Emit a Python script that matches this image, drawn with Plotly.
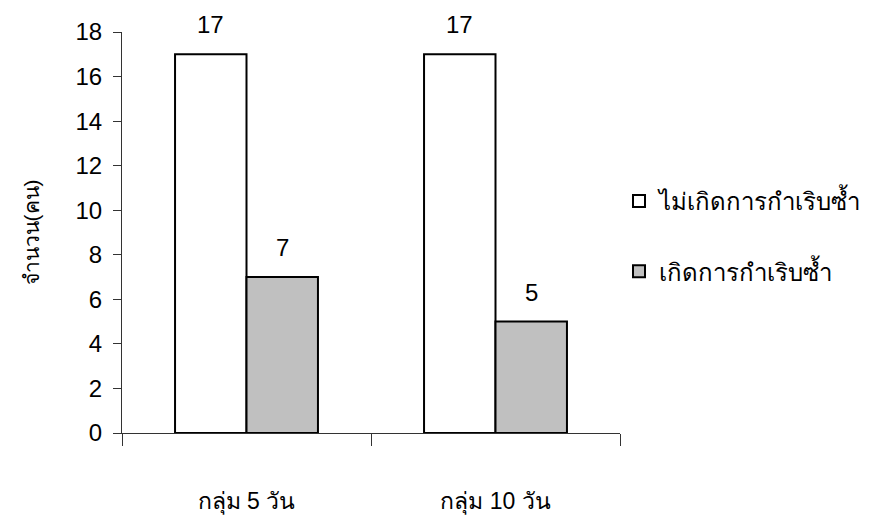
import plotly.graph_objects as go

# Relapse counts per treatment group
groups = ["กลุ่ม 5 วัน", "กลุ่ม 10 วัน"]
no_relapse = [17, 17]
relapse = [7, 5]
series_names = ["ไม่เกิดการกำเริบซ้ำ", "เกิดการกำเริบซ้ำ"]
y_ticks = [0, 2, 4, 6, 8, 10, 12, 14, 16, 18]

FONT = "Liberation Sans, Arial, sans-serif"
W, H = 886, 519
M = dict(l=122, r=266, t=32, b=86)
BARGAP = 0.426

fig = go.Figure()
fig.add_trace(go.Bar(
    x=groups, y=no_relapse, name=series_names[0],
    marker=dict(color="white", line=dict(color="black", width=2)),
    legendgroup="a",
))
fig.add_trace(go.Bar(
    x=groups, y=relapse, name=series_names[1],
    marker=dict(color="#c0c0c0", line=dict(color="black", width=2)),
    legendgroup="b",
))

# value labels above each bar
cat_px = (W - M["l"] - M["r"]) / len(groups)
bar_px = cat_px * (1 - BARGAP) / 2
for i, g in enumerate(groups):
    for vals, sign in ((no_relapse, -1), (relapse, 1)):
        fig.add_annotation(
            x=g, y=vals[i], text=str(vals[i]), showarrow=False,
            xshift=sign * bar_px / 2, yanchor="bottom", yshift=14,
            font=dict(family=FONT, size=24, color="black"),
        )

fig.update_layout(
    width=W, height=H, margin=M,
    plot_bgcolor="white", paper_bgcolor="white",
    barmode="group", bargap=BARGAP, bargroupgap=0,
    showlegend=True,
    legend=dict(
        x=0.998, xanchor="left", y=0.49, yanchor="middle",
        font=dict(family=FONT, size=24, color="black"),
        tracegroupgap=36, traceorder="grouped",
        bgcolor="rgba(0,0,0,0)",
    ),
    xaxis=dict(
        showline=True, linecolor="#333", linewidth=1, automargin=False,
        ticks="outside", tickson="boundaries", ticklen=12, tickcolor="#333",
        tickfont=dict(family=FONT, size=23, color="black"),
        ticklabelstandoff=47, showgrid=False,
    ),
    yaxis=dict(
        range=[0, 18], tickvals=y_ticks, showline=True, linecolor="#333", linewidth=1,
        automargin=False,
        ticks="outside", ticklen=8, tickcolor="#333", showgrid=False, zeroline=False,
        tickfont=dict(family=FONT, size=24, color="black"),
        ticklabelstandoff=6,
        title=dict(text="จำนวน(คน)", font=dict(family=FONT, size=21, color="black"), standoff=30),
    ),
)

fig.write_html("out.html")
